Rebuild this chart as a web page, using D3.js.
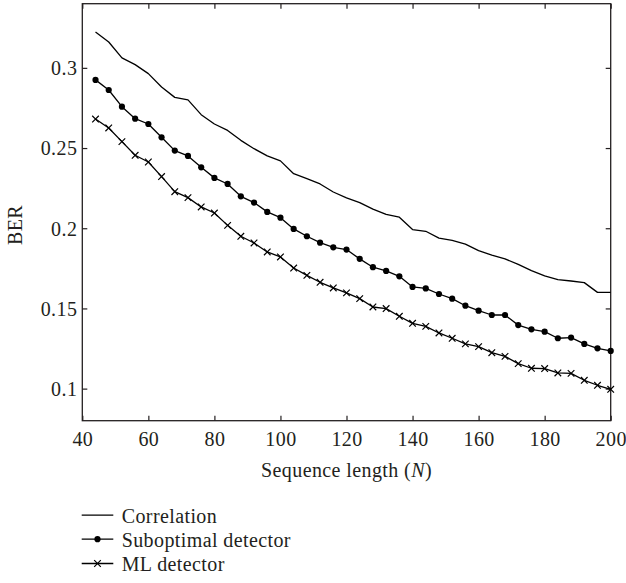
<!DOCTYPE html>
<html>
<head>
<meta charset="utf-8">
<script src="https://cdn.jsdelivr.net/npm/d3@7"></script>
<style>
  html, body { margin: 0; padding: 0; background: #fff; }
  svg { display: block; }
  text { font-family: "Liberation Serif", "Times New Roman", Times, serif; fill: #231f20; letter-spacing: 0.4px; }
</style>
</head>
<body>
<svg id="chart" width="626" height="583"></svg>
<script>
// ---- data ----
const seqLength = [44,48,52,56,60,64,68,72,76,80,84,88,92,96,100,104,108,112,116,120,
                   124,128,132,136,140,144,148,152,156,160,164,168,172,176,180,184,188,192,196,200];
const correlation = [0.3224,0.3161,0.3062,0.3020,0.2964,0.2881,0.2816,0.2800,0.2708,0.2650,
                     0.2610,0.2548,0.2496,0.2451,0.2420,0.2340,0.2309,0.2276,0.2226,0.2189,
                     0.2160,0.2119,0.2086,0.2069,0.1992,0.1981,0.1938,0.1924,0.1901,0.1860,
                     0.1833,0.1809,0.1775,0.1736,0.1703,0.1680,0.1671,0.1661,0.1600,0.1600];
const suboptimal = [0.2925,0.2862,0.2758,0.2683,0.2650,0.2567,0.2484,0.2451,0.2380,0.2314,
                    0.2276,0.2199,0.2160,0.2102,0.2066,0.1996,0.1950,0.1910,0.1881,0.1867,
                    0.1809,0.1757,0.1734,0.1700,0.1634,0.1625,0.1590,0.1561,0.1517,0.1486,
                    0.1459,0.1459,0.1396,0.1370,0.1355,0.1314,0.1318,0.1279,0.1251,0.1235];
const mlDetector = [0.2681,0.2625,0.2540,0.2455,0.2413,0.2322,0.2228,0.2191,0.2133,0.2095,
                    0.2018,0.1950,0.1908,0.1852,0.1821,0.1752,0.1706,0.1663,0.1628,0.1597,
                    0.1561,0.1509,0.1499,0.1451,0.1407,0.1388,0.1347,0.1314,0.1279,0.1262,
                    0.1224,0.1201,0.1156,0.1127,0.1125,0.1098,0.1095,0.1052,0.1021,0.0996];
const xTicks = [40,60,80,100,120,140,160,180,200];
const yTicks = [0.1,0.15,0.2,0.25,0.3];
const yTickLabels = ["0.1","0.15","0.2","0.25","0.3"];
const legendLabels = ["Correlation","Suboptimal detector","ML detector"];

// ---- layout ----
const svg = d3.select("#chart");
const L = 82.3, R = 610.7, T = 3.7, B = 420.7;
const ink = "#231f20";
const x = d3.scaleLinear().domain([40,200]).range([L,R]);
const y = d3.scaleLinear().domain([0.08,0.34]).range([B,T]);
const fs = 20;

// axes (ticks inward, mirrored)
const gx = svg.append("g").attr("transform",`translate(0,${B})`)
  .call(d3.axisBottom(x).tickValues(xTicks).tickSizeInner(-5).tickSizeOuter(0).tickPadding(13).tickFormat(d3.format("d")));
const gxt = svg.append("g").attr("transform",`translate(0,${T})`)
  .call(d3.axisTop(x).tickValues(xTicks).tickSizeInner(-5).tickSizeOuter(0).tickFormat(""));
const gy = svg.append("g").attr("transform",`translate(${L},0)`)
  .call(d3.axisLeft(y).tickValues(yTicks).tickSizeInner(-5).tickSizeOuter(0).tickPadding(5)
        .tickFormat((d,i)=>yTickLabels[i]));
const gyr = svg.append("g").attr("transform",`translate(${R},0)`)
  .call(d3.axisRight(y).tickValues(yTicks).tickSizeInner(-5).tickSizeOuter(0).tickFormat(""));
[gx,gxt,gy,gyr].forEach(g=>{
  g.select(".domain").remove();
  g.selectAll("line").attr("stroke",ink).attr("stroke-width",1.2);
  g.selectAll("text").attr("font-size",fs).attr("fill",ink);
});
gx.selectAll("text").attr("dy",null).attr("y", 25.3);
gy.selectAll("text").attr("dy","0.34em");

// frame
svg.append("rect").attr("x",L).attr("y",T).attr("width",R-L).attr("height",B-T)
  .attr("fill","none").attr("stroke",ink).attr("stroke-width",1.3);

// axis titles
const xt = svg.append("text").attr("x",(L+R)/2).attr("y",476.5).attr("text-anchor","middle").attr("font-size",fs);
xt.append("tspan").text("Sequence length (");
xt.append("tspan").attr("font-style","italic").text("N");
xt.append("tspan").text(")");
svg.append("text").attr("transform","translate(22,225) rotate(-90)")
  .attr("text-anchor","middle").attr("font-size",fs).text("BER");

// series
const line = d3.line().x((d,i)=>x(seqLength[i])).y(d=>y(d));
const series = [correlation, suboptimal, mlDetector];
series.forEach(s=>{
  svg.append("path").datum(s).attr("d",line).attr("fill","none")
    .attr("stroke","#000").attr("stroke-width",1.3).attr("stroke-linejoin","round");
});
// circle markers
svg.append("g").selectAll("circle").data(suboptimal).join("circle")
  .attr("cx",(d,i)=>x(seqLength[i])).attr("cy",d=>y(d)).attr("r",3.1).attr("fill","#000");
// x markers
const xs = 3.3;
svg.append("g").selectAll("path").data(mlDetector).join("path")
  .attr("d",(d,i)=>{const cx=x(seqLength[i]), cy=y(d);
    return `M${cx-xs},${cy-xs}L${cx+xs},${cy+xs}M${cx-xs},${cy+xs}L${cx+xs},${cy-xs}`;})
  .attr("stroke","#000").attr("stroke-width",1.2);

// legend
const legBase = [522.7, 546.7, 571];
const lx0 = 81.7, lx1 = 113.3;
legendLabels.forEach((lab,i)=>{
  const ly = legBase[i]-7.5;
  svg.append("line").attr("x1",lx0).attr("x2",lx1).attr("y1",ly).attr("y2",ly)
    .attr("stroke","#000").attr("stroke-width",1.3);
  const cx=(lx0+lx1)/2;
  if(i===1) svg.append("circle").attr("cx",cx).attr("cy",ly).attr("r",3.1).attr("fill","#000");
  if(i===2) svg.append("path").attr("d",`M${cx-xs},${ly-xs}L${cx+xs},${ly+xs}M${cx-xs},${ly+xs}L${cx+xs},${ly-xs}`)
    .attr("stroke","#000").attr("stroke-width",1.2);
  svg.append("text").attr("x",121.7).attr("y",legBase[i]).attr("font-size",fs).text(lab);
});
</script>
</body>
</html>
